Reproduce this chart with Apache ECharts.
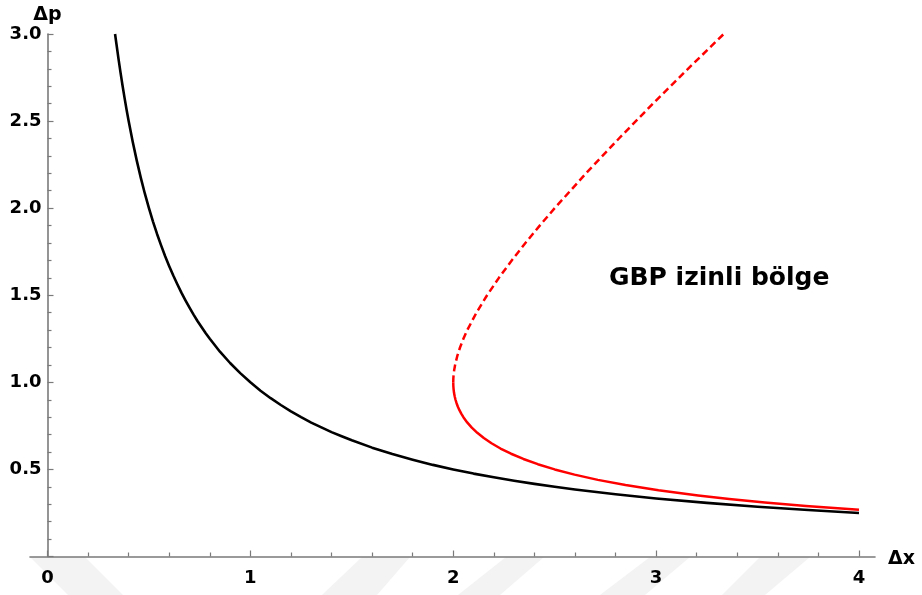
<!DOCTYPE html>
<html>
<head>
<meta charset="utf-8">
<script src="https://cdn.jsdelivr.net/npm/echarts@6/dist/echarts.min.js"></script>
<style>html,body{margin:0;padding:0;background:#fff}#c{width:922px;height:595px}</style>
</head>
<body>
<div id="c"></div>
<script>
// ---- data ----
const xTicks = [0, 1, 2, 3, 4];
const yTicks = [0.5, 1.0, 1.5, 2.0, 2.5, 3.0];
const xName = 'Δx';
const yName = 'Δp';
const regionLabel = 'GBP izinli bölge';

// black curve (Δx, Δp)
const blackCurve = [
  [0.333, 3.0], [0.34, 2.941], [0.35, 2.857], [0.36, 2.778], [0.37, 2.703], [0.38, 2.632],
  [0.39, 2.564], [0.40, 2.5], [0.42, 2.381], [0.44, 2.273], [0.46, 2.174], [0.48, 2.083],
  [0.50, 2.0], [0.52, 1.923], [0.54, 1.852], [0.56, 1.786], [0.58, 1.724], [0.60, 1.667],
  [0.62, 1.613], [0.64, 1.563], [0.66, 1.515], [0.68, 1.471], [0.70, 1.429], [0.72, 1.389],
  [0.74, 1.351], [0.76, 1.316], [0.78, 1.282], [0.80, 1.25], [0.85, 1.176], [0.90, 1.111],
  [0.95, 1.053], [1.0, 1.0], [1.05, 0.952], [1.1, 0.909], [1.15, 0.870], [1.2, 0.833],
  [1.25, 0.80], [1.3, 0.769], [1.35, 0.741], [1.4, 0.714], [1.45, 0.690], [1.5, 0.667],
  [1.6, 0.625], [1.7, 0.588], [1.8, 0.556], [1.9, 0.526], [2.0, 0.5], [2.1, 0.476],
  [2.2, 0.455], [2.3, 0.435], [2.4, 0.417], [2.5, 0.40], [2.6, 0.385], [2.8, 0.357],
  [3.0, 0.333], [3.25, 0.308], [3.5, 0.286], [3.75, 0.267], [4.0, 0.25]
];

// red curve, solid lower branch (Δx, Δp)
const redSolid = [
  [2.0, 1.0], [2.0004, 0.98], [2.0017, 0.96], [2.0038, 0.94], [2.007, 0.92], [2.0111, 0.90],
  [2.0164, 0.88], [2.0228, 0.86], [2.0305, 0.84], [2.0395, 0.82], [2.05, 0.80], [2.0687, 0.77],
  [2.0914, 0.74], [2.1185, 0.71], [2.1506, 0.68], [2.1885, 0.65], [2.2329, 0.62], [2.2849, 0.59],
  [2.3457, 0.56], [2.4168, 0.53], [2.5, 0.50], [2.5977, 0.47], [2.7127, 0.44], [2.849, 0.41],
  [3.0116, 0.38], [3.2071, 0.35], [3.3603, 0.33], [3.5358, 0.31], [3.7383, 0.29], [4.0, 0.268]
];

// red curve, dashed upper branch (Δx, Δp)
const redDashed = [
  [2.0, 1.0], [2.0004, 1.02], [2.0015, 1.04], [2.0046, 1.07], [2.0091, 1.10], [2.0196, 1.15],
  [2.0333, 1.20], [2.05, 1.25], [2.0692, 1.30], [2.1143, 1.40], [2.1667, 1.50], [2.225, 1.60],
  [2.2882, 1.70], [2.3556, 1.80], [2.4263, 1.90], [2.5, 2.0], [2.6545, 2.2], [2.8167, 2.4],
  [2.9846, 2.6], [3.1571, 2.8], [3.3333, 3.0]
];

// ---- chart ----
const FONT = 'DejaVu Sans';
const AXIS_COLOR = '#7a7a7a';
const chart = echarts.init(document.getElementById('c'), null, {renderer: 'canvas'});

const wm = '#f3f3f3';
const watermark = [
  [[30,557],[85,557],[123,595],[68,595]],
  [[362,557],[410,557],[377,595],[322,595]],
  [[506,557],[544,557],[500,595],[458,595]],
  [[650,557],[690,557],[645,595],[600,595]],
  [[760,557],[810,557],[765,595],[722,595]]
].map(p => ({type:'polygon', silent:true, z:-10, shape:{points:p}, style:{fill:wm}}));

chart.setOption({
  animation: false,
  backgroundColor: '#fff',
  grid: [
    {left: 47.5, right: 63, top: 34, bottom: 38.5},
    {left: 30, right: 47, top: 34, bottom: 38.5}
  ],
  xAxis: [
    {
      type: 'value', gridIndex: 0, min: xTicks[0], max: xTicks[xTicks.length-1], interval: 1,
      axisLine: {show: false},
      axisTick: {show: true, inside: true, length: 6, lineStyle: {color: AXIS_COLOR, width: 1.2}},
      minorTick: {show: true, splitNumber: 5, length: 4, lineStyle: {color: AXIS_COLOR, width: 1.2}},
      splitLine: {show: false}, minorSplitLine: {show: false},
      axisLabel: {show: true, margin: 13, color: '#000', fontFamily: FONT, fontWeight: 'bold', fontSize: 18,
        formatter: v => xTicks.includes(v) ? String(v) : ''}
    },
    {
      type: 'value', gridIndex: 1, min: 0, max: 1,
      axisLine: {show: true, onZero: false, lineStyle: {color: AXIS_COLOR, width: 1.6}},
      axisTick: {show: false}, axisLabel: {show: false}, splitLine: {show: false}
    }
  ],
  yAxis: [
    {
      type: 'value', gridIndex: 0, min: 0, max: 3, interval: 0.5,
      axisLine: {show: true, lineStyle: {color: AXIS_COLOR, width: 1.6}},
      axisTick: {show: true, inside: true, length: 6, lineStyle: {color: AXIS_COLOR, width: 1.2}},
      minorTick: {show: true, splitNumber: 5, length: 4, lineStyle: {color: AXIS_COLOR, width: 1.2}},
      splitLine: {show: false}, minorSplitLine: {show: false},
      axisLabel: {show: true, margin: 6, color: '#000', fontFamily: FONT, fontWeight: 'bold', fontSize: 18,
        formatter: v => {
          const t = yTicks.find(y => Math.abs(y - v) < 1e-9);
          return t === undefined ? '' : t.toFixed(1);
        }},
      name: yName, nameLocation: 'end', nameGap: 9,
      nameTextStyle: {color: '#000', fontFamily: FONT, fontWeight: 'bold', fontSize: 19, align: 'center'}
    },
    {
      type: 'value', gridIndex: 1, min: 0, max: 1, show: false
    }
  ],
  series: [
    {
      type: 'line', xAxisIndex: 0, yAxisIndex: 0, data: blackCurve, showSymbol: false,
      lineStyle: {color: '#000', width: 2.6, join: 'round'}, silent: true, z: 3
    },
    {
      type: 'line', xAxisIndex: 0, yAxisIndex: 0, data: redSolid, showSymbol: false,
      lineStyle: {color: '#ff0000', width: 2.5, join: 'round'}, silent: true, z: 4
    },
    {
      type: 'line', xAxisIndex: 0, yAxisIndex: 0, data: redDashed, showSymbol: false,
      lineStyle: {color: '#ff0000', width: 2.5, type: [7, 4], join: 'round'}, silent: true, z: 4
    }
  ],
  graphic: watermark.concat([
    {
      type: 'text', left: 609, top: 266, silent: true, z: 10,
      style: {text: regionLabel, fill: '#000', font: 'bold 25px "DejaVu Sans"'}
    },
    {
      type: 'text', left: 888, top: 550, silent: true, z: 10,
      style: {text: xName, fill: '#000', font: 'bold 19px "DejaVu Sans"'}
    }
  ])
});
</script>
</body>
</html>
